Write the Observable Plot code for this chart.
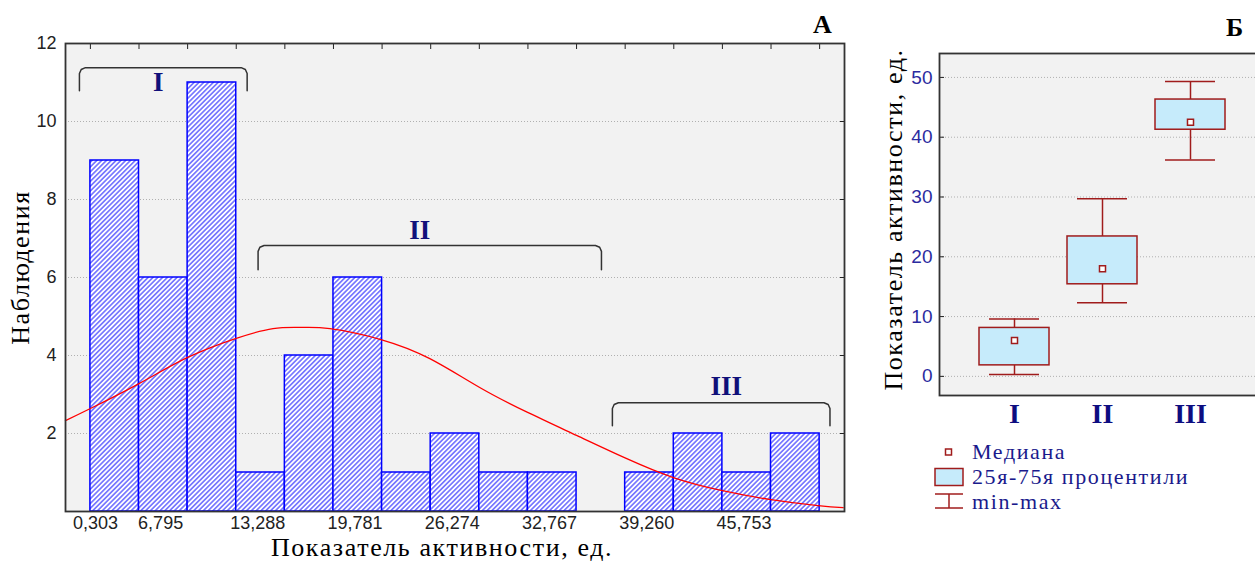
<!DOCTYPE html>
<html><head><meta charset="utf-8">
<script src="https://cdn.jsdelivr.net/npm/d3@7"></script>
<script src="https://cdn.jsdelivr.net/npm/@observablehq/plot@0.6"></script>
<style>
html,body{margin:0;padding:0;background:#fff;overflow:hidden;}
#wrap{position:relative;width:1255px;height:561px;overflow:hidden;background:#fff;}
#left{position:absolute;left:0;top:0;width:860px;height:561px;}
#right{position:absolute;left:860px;top:0;width:410px;height:561px;}
#wrap svg{max-width:none !important;}
.panel{position:absolute;font-family:"Liberation Serif",serif;font-weight:bold;font-size:26px;line-height:1;color:#000;}
#legend{position:absolute;left:933px;top:440px;font-family:"Liberation Serif",serif;font-size:22px;letter-spacing:1.6px;color:#1a1a8c;}
#legend .row{position:absolute;left:0;white-space:nowrap;height:24px;}
#legend svg{position:absolute;left:0;top:0;}
#legend span{position:absolute;left:39px;top:0;line-height:24px;}
</style></head><body>
<div id="wrap">
  <div id="left"></div>
  <div id="right"></div>
  <div class="panel" style="left:813px;top:12px;">А</div>
  <div class="panel" style="left:1226px;top:15px;">Б</div>
  <div id="legend"></div>
</div>
<script>
// ---------- Panel A: histogram ----------
const binEdges = [0.303, 3.549, 6.795, 10.042, 13.288, 16.534, 19.781, 23.027, 26.274, 29.520, 32.767, 36.013, 39.260, 42.506, 45.753, 48.999];
const counts = [9, 6, 11, 1, 4, 6, 1, 2, 1, 1, 0, 1, 2, 1, 2];
const xTickValues = [0.303, 6.795, 13.288, 19.781, 26.274, 32.767, 39.260, 45.753];
const xTickLabels = ["0,303", "6,795", "13,288", "19,781", "26,274", "32,767", "39,260", "45,753"];
const yTicksA = [2, 4, 6, 8, 10, 12];
// fitted normal curve
const curveX = [-1.36, 0.303, 3.55, 6.80, 10.04, 12.50, 14.30, 16.30, 19.70, 22.97, 26.30, 29.50, 32.77, 35.97, 39.23, 42.43, 45.63, 48.90, 50.57];
const curveY = [2.33, 2.64, 3.28, 3.95, 4.44, 4.69, 4.72, 4.69, 4.41, 3.92, 3.18, 2.54, 1.95, 1.38, 0.87, 0.54, 0.31, 0.15, 0.10];
// group brackets
const bracketNames = ["I", "II", "III"];
const bracketX1 = [-0.43, 11.5, 35.16];
const bracketX2 = [10.77, 34.43, 49.69];
const bracketTop = [11.38, 6.82, 2.79];
const bracketBottom = [10.79, 6.2, 2.2];
const bracketLabelX = [4.84, 22.3, 42.77];
const bracketLabelY = [11.0, 7.2, 3.2];

const bins = counts.map((c, i) => ({x1: binEdges[i], x2: binEdges[i + 1], n: c})).filter(d => d.n > 0);
const curve = curveX.map((x, i) => ({x, y: curveY[i]}));
const rx = 0.4, ry = 0.15;
const bracketPts = [];
bracketNames.forEach((g, i) => {
  const x1 = bracketX1[i], x2 = bracketX2[i], t = bracketTop[i], b = bracketBottom[i];
  [[x1, b], [x1, t - ry], [x1 + rx * 0.3, t - ry * 0.3], [x1 + rx, t], [x2 - rx, t], [x2 - rx * 0.3, t - ry * 0.3], [x2, t - ry], [x2, b]]
    .forEach(([x, y]) => bracketPts.push({g, x, y}));
});
const bracketLabels = bracketNames.map((g, i) => ({g, x: bracketLabelX[i], y: bracketLabelY[i]}));

const serif = "Liberation Serif";
const sans = "Liberation Sans";
const titleStyle = {fontFamily: serif, fontSize: 26, fill: "#000", textAnchor: "middle", lineAnchor: "middle"};
const xTitle = "Показатель активности, ед.";
const yTitleA = "Наблюдения";

const plotA = Plot.plot({
  width: 860, height: 561,
  marginLeft: 65, marginRight: 16, marginTop: 43, marginBottom: 50,
  style: {fontFamily: sans, fontSize: "18px", background: "transparent", overflow: "visible", maxWidth: "none"},
  x: {domain: [-1.36, 50.66]},
  y: {domain: [0, 12]},
  marks: [
    Plot.frame({fill: "#f2f2f2"}),
    Plot.gridY(yTicksA.slice(0, -1), {stroke: "#b0b0b0", strokeOpacity: 1, strokeDasharray: "1,2"}),
    Plot.rectY(bins, {x1: "x1", x2: "x2", y1: 0, y2: "n", fill: "url(#hatch)", stroke: "#0000ff", strokeWidth: 1.5}),
    Plot.line(curve, {x: "x", y: "y", stroke: "#ff0000", strokeWidth: 1.3, curve: "natural"}),
    Plot.line(bracketPts, {x: "x", y: "y", z: "g", stroke: "#333", strokeWidth: 1.5}),
    Plot.text(bracketLabels, {x: "x", y: "y", text: "g", fontFamily: serif, fontWeight: "bold", fontSize: 27, fill: "#10107a"}),
    Plot.axisY({ticks: yTicksA, tickSize: 0, tickPadding: 9, label: null, fill: "#222"}),
    Plot.axisY({anchor: "right", ticks: yTicksA.slice(0, -1), tickSize: -5, tickFormat: () => "", label: null, stroke: "#222"}),
    Plot.axisX({anchor: "top", ticks: binEdges, tickSize: -5, tickFormat: () => "", label: null, stroke: "#222"}),
    Plot.axisX({ticks: xTickValues.slice(0, 1), tickSize: 0, tickPadding: 5, dx: 5, tickFormat: (d) => xTickLabels[xTickValues.indexOf(d)], label: null, fill: "#222"}),
    Plot.axisX({ticks: xTickValues.slice(1), tickSize: 0, tickPadding: 5, dx: -27, tickFormat: (d) => xTickLabels[xTickValues.indexOf(d)], label: null, fill: "#222"}),
    Plot.frame({stroke: "#333", strokeWidth: 1.8}),
    Plot.text([yTitleA], {frameAnchor: "left", dx: -45, dy: -10, rotate: -90, ...titleStyle}),
    Plot.text([xTitle], {frameAnchor: "bottom", dx: -13, dy: 36, ...titleStyle})
  ]
});
// hatch pattern for bars
const defs = d3.select(plotA).insert("defs", ":first-child");
const pat = defs.append("pattern").attr("id", "hatch").attr("patternUnits", "userSpaceOnUse")
  .attr("width", 3.4).attr("height", 3.4).attr("patternTransform", "rotate(45)");
pat.append("rect").attr("width", 3.4).attr("height", 3.4).attr("fill", "#fff");
pat.append("line").attr("x1", 1.7).attr("y1", -1).attr("x2", 1.7).attr("y2", 4.4).attr("stroke", "#1a1aff").attr("stroke-width", 1.0);
document.getElementById("left").appendChild(plotA);

// ---------- Panel Б: box plot ----------
const groups = ["I", "II", "III"];
const mins = [0.3, 12.3, 36.2];
const q1s = [1.84, 15.4, 41.25];
const medians = [6.0, 18.0, 42.5];
const q3s = [8.1, 23.4, 46.3];
const maxs = [9.6, 29.7, 49.3];
const yTicksB = [0, 10, 20, 30, 40, 50];
const boxes = groups.map((g, i) => ({g, min: mins[i], q1: q1s[i], med: medians[i], q3: q3s[i], max: maxs[i]}));
const boxStroke = "#a01c1c";

const plotB = Plot.plot({
  width: 410, height: 561,
  marginLeft: 79, marginRight: 4, marginTop: 53, marginBottom: 166,
  style: {fontFamily: sans, fontSize: "19px", background: "transparent", overflow: "visible", maxWidth: "none"},
  x: {type: "band", domain: groups, paddingInner: 0.2045, paddingOuter: 0.454},
  y: {domain: [-3.2, 54]},
  marks: [
    Plot.frame({fill: "#f2f2f2"}),
    Plot.gridY(yTicksB, {stroke: "#b0b0b0", strokeOpacity: 1, strokeDasharray: "1,2"}),
    Plot.ruleX(boxes, {x: "g", y1: "min", y2: "q1", stroke: boxStroke, strokeWidth: 1.5}),
    Plot.ruleX(boxes, {x: "g", y1: "q3", y2: "max", stroke: boxStroke, strokeWidth: 1.5}),
    Plot.tickY(boxes, {x: "g", y: "min", inset: 10, stroke: boxStroke, strokeWidth: 1.5}),
    Plot.tickY(boxes, {x: "g", y: "max", inset: 10, stroke: boxStroke, strokeWidth: 1.5}),
    Plot.barY(boxes, {x: "g", y1: "q1", y2: "q3", fill: "#c6ebfb", stroke: boxStroke, strokeWidth: 1.5}),
    Plot.dot(boxes, {x: "g", y: "med", symbol: "square", r: 3.4, fill: "#fff", stroke: boxStroke, strokeWidth: 1.5}),
    Plot.axisY({ticks: yTicksB, tickSize: -5, tickFormat: () => "", label: null, stroke: "#222"}),
    Plot.axisY({ticks: yTicksB, tickSize: 0, tickPadding: 7, label: null, fill: "#2b2ba0"}),
    Plot.axisX({tickSize: 0, tickPadding: 8, label: null, fontFamily: serif, fontWeight: "bold", fontSize: 28, fill: "#0d0d80"}),
    Plot.frame({stroke: "#333", strokeWidth: 1.8}),
    Plot.text([xTitle], {frameAnchor: "left", dx: -46, dy: -5, rotate: -90, ...titleStyle})
  ]
});
document.getElementById("right").appendChild(plotB);

// widen the serif titles like the reference's rendering
[plotA, plotB].forEach(p => {
  d3.select(p).selectAll("text")
    .filter(function () { return this.textContent === xTitle || this.textContent === yTitleA; })
    .attr("letter-spacing", "1.6px");
});

// ---------- legend ----------
const legendItems = ["Медиана", "25я-75я процентили", "min-max"];
const legend = d3.select("#legend");
const rowTops = [0, 25, 50];
legendItems.forEach((t, i) => {
  const row = legend.append("div").attr("class", "row").style("top", rowTops[i] + "px");
  const s = row.append("svg").attr("width", 32).attr("height", 24);
  if (i === 0) {
    s.append("rect").attr("x", 12.5).attr("y", 9).attr("width", 6).attr("height", 6).attr("fill", "#fff").attr("stroke", boxStroke).attr("stroke-width", 1.5);
  } else if (i === 1) {
    s.append("rect").attr("x", 2).attr("y", 3.5).attr("width", 28).attr("height", 17).attr("fill", "#c6ebfb").attr("stroke", boxStroke).attr("stroke-width", 1.5);
  } else {
    s.append("line").attr("x1", 2).attr("x2", 30).attr("y1", 4).attr("y2", 4).attr("stroke", boxStroke).attr("stroke-width", 1.5);
    s.append("line").attr("x1", 2).attr("x2", 30).attr("y1", 18).attr("y2", 18).attr("stroke", boxStroke).attr("stroke-width", 1.5);
    s.append("line").attr("x1", 16).attr("x2", 16).attr("y1", 4).attr("y2", 18).attr("stroke", boxStroke).attr("stroke-width", 1.5);
  }
  row.append("span").text(t);
});
</script>
</body></html>
